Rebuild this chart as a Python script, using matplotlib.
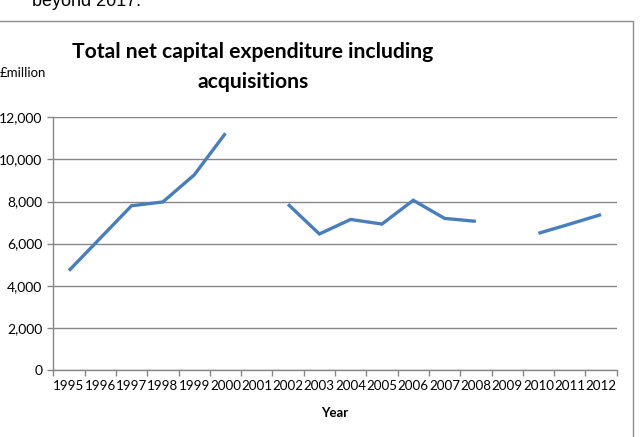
import numpy as np
import matplotlib
matplotlib.use("Agg")
import matplotlib.pyplot as plt
from matplotlib.patches import Rectangle

years = [str(y) for y in range(1995, 2013)]
values = [4720, 6260, 7800, 7980, 9260, 11240, np.nan, 7870, 6460, 7150,
          6930, 8060, 7200, 7060, np.nan, 6490, 6930, 7380]
yticks = [0, 2000, 4000, 6000, 8000, 10000, 12000]
ytick_labels = ["0", "2,000", "4,000", "6,000", "8,000", "10,000", "12,000"]

W, H = 642, 437
fig = plt.figure(figsize=(W / 100, H / 100), dpi=100)
fig.patch.set_facecolor("white")

font = "Lato"
grey = "#878787"

# chart border
fig.patches.append(Rectangle((-0.01, -0.05), 633 / W + 0.01, (437 - 21) / H + 0.05,
                             transform=fig.transFigure, fill=False,
                             edgecolor="#8c8c8c", linewidth=1.0))

ax = fig.add_axes([53.3 / W, (H - 370) / H, (616.7 - 53.3) / W, (370 - 117.3) / H])
x = np.arange(len(years))
ax.plot(x, values, color="#4A7EBB", linewidth=2.4, solid_capstyle="butt",
        solid_joinstyle="miter")

ax.set_xlim(-0.5, len(years) - 0.5)
ax.set_ylim(0, 12000)
ax.set_yticks(yticks)
ax.set_yticklabels(ytick_labels, fontsize=10, family=font, color="#000000")
ax.yaxis.grid(True, color=grey, linewidth=1.0)
ax.set_axisbelow(True)

ax.set_xticks(x)
ax.set_xticklabels(years, fontsize=9.6, family=font)
ax.set_xticks(np.arange(-0.5, len(years)), minor=True)
ax.tick_params(axis="x", which="major", length=0, pad=7)
ax.tick_params(axis="x", which="minor", length=4, color=grey, width=1)
ax.tick_params(axis="y", which="major", length=4, color=grey, width=1, pad=4)

for s in ["top", "right"]:
    ax.spines[s].set_visible(False)
for s in ["left", "bottom"]:
    ax.spines[s].set_color(grey)
    ax.spines[s].set_linewidth(1.0)

ax.set_xlabel("Year", fontsize=9.5, family=font, fontweight="bold", labelpad=11)

fig.text(253 / W, 1 - 67 / H, "Total net capital expenditure including\nacquisitions",
         ha="center", va="center", fontsize=15.2, fontweight="bold", family=font,
         linespacing=1.6)
fig.text(0 / W, 1 - 73 / H, "£million", ha="left", va="center", fontsize=9.5,
         family=font)
fig.text(32 / W, 1 - 6 / H, "beyond 2017.", ha="left", va="baseline",
         fontsize=13, family="Liberation Sans")

fig.savefig("out.png", dpi=100)
